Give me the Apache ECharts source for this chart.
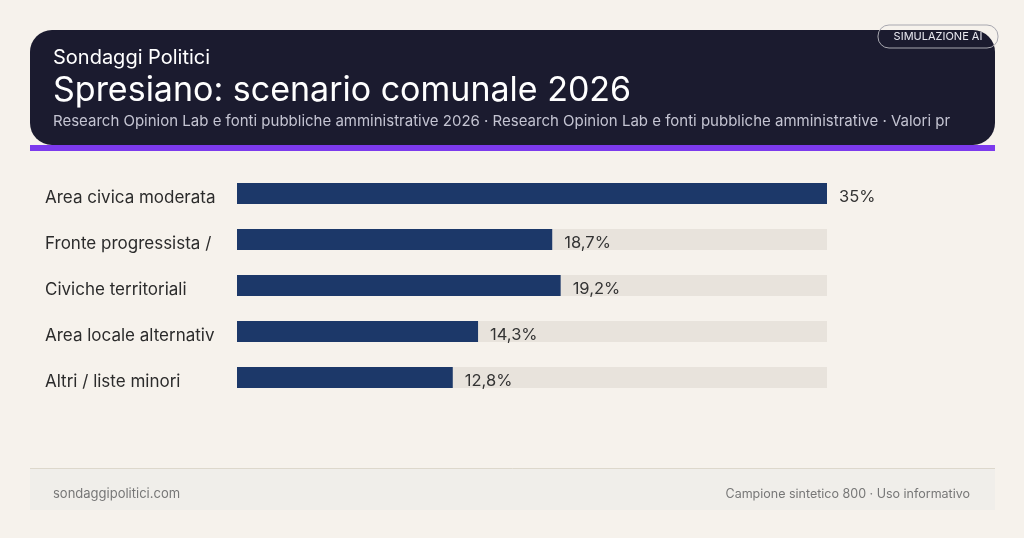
<!DOCTYPE html>
<html>
<head>
<meta charset="utf-8">
<script src="https://cdn.jsdelivr.net/npm/echarts@6/dist/echarts.min.js"></script>
<style>
html,body{margin:0;padding:0;background:#f6f2ec;}
#c{width:1024px;height:538px;}
</style>
</head>
<body>
<div id="c"></div>
<script>
const categories = ["Area civica moderata","Fronte progressista /","Civiche territoriali","Area locale alternativ","Altri / liste minori"];
const values = [35, 18.7, 19.2, 14.3, 12.8];
const trackMax = 35;
const brand = "Sondaggi Politici";
const title = "Spresiano: scenario comunale 2026";
const subtitle = "Research Opinion Lab e fonti pubbliche amministrative 2026 · Research Opinion Lab e fonti pubbliche amministrative · Valori pr";
const badge = "SIMULAZIONE AI";
const footLeft = "sondaggipolitici.com";
const footRight = "Campione sintetico 800 · Uso informativo";

const fmt = v => (Number.isInteger(v) ? String(v) : v.toFixed(1).replace('.', ',')) + '%';
const F = 'Inter, "Noto Sans", sans-serif';

const chart = echarts.init(document.getElementById('c'));
chart.setOption({
  backgroundColor: '#f6f2ec',
  animation: false,
  grid: {left: 237, right: 197, top: 170.5, height: 230, containLabel: false},
  xAxis: {type: 'value', min: 0, max: trackMax, show: false},
  yAxis: {
    type: 'category', data: categories, inverse: true,
    axisLine: {show: false}, axisTick: {show: false},
    axisLabel: {align: 'left', margin: 192, color: '#2b2b2b', fontSize: 17, fontFamily: F,
                verticalAlign: 'top', lineHeight: 8}
  },
  series: [
    {type: 'bar', data: categories.map(() => trackMax), barWidth: 21, barGap: '-100%',
     itemStyle: {color: '#e8e3dc'}, silent: true, z: 1},
    {type: 'bar', data: values, barWidth: 21,
     itemStyle: {color: '#1c3869'}, z: 2,
     label: {show: true, position: 'right', distance: 12, offset: [0, 4], formatter: p => fmt(p.value),
             color: '#333333', fontSize: 16.5, fontFamily: F}}
  ],
  graphic: [
    {type: 'rect', shape: {x: 30, y: 145, width: 965, height: 6}, style: {fill: '#7c3aed'}, z: 0},
    {type: 'rect', shape: {x: 30, y: 30, width: 965, height: 115, r: 22}, style: {fill: '#1b1b2f'}, z: 1},
    {type: 'text', x: 53, y: 58, style: {text: brand, fill: '#ffffff', fontSize: 20, fontFamily: F, verticalAlign: 'middle'}, z: 2},
    {type: 'text', x: 53, y: 91, style: {text: title, fill: '#ffffff', fontSize: 34, fontFamily: F, verticalAlign: 'middle'}, z: 2},
    {type: 'text', x: 53, y: 121, style: {text: subtitle, fill: '#c4c4d2', fontSize: 15, fontFamily: F, verticalAlign: 'middle'}, z: 2},
    {type: 'rect', shape: {x: 878, y: 25, width: 120, height: 23, r: 11}, style: {fill: 'transparent', stroke: '#a8a8b0', lineWidth: 1}, z: 3},
    {type: 'text', x: 938, y: 37, style: {text: badge, fill: '#e8e8f0', fontSize: 11, fontFamily: F, align: 'center', verticalAlign: 'middle'}, z: 3},
    {type: 'rect', shape: {x: 30, y: 468, width: 965, height: 42}, style: {fill: '#f0eeea'}, z: 0},
    {type: 'line', shape: {x1: 30, y1: 468.5, x2: 995, y2: 468.5}, style: {stroke: '#ddd8cc', lineWidth: 1}, z: 1},
    {type: 'text', x: 53, y: 494, style: {text: footLeft, fill: '#777777', fontSize: 13, fontFamily: F, verticalAlign: 'middle'}, z: 2},
    {type: 'text', x: 970, y: 494, style: {text: footRight, fill: '#777777', fontSize: 12.5, fontFamily: F, align: 'right', verticalAlign: 'middle'}, z: 2}
  ]
});
</script>
</body>
</html>
